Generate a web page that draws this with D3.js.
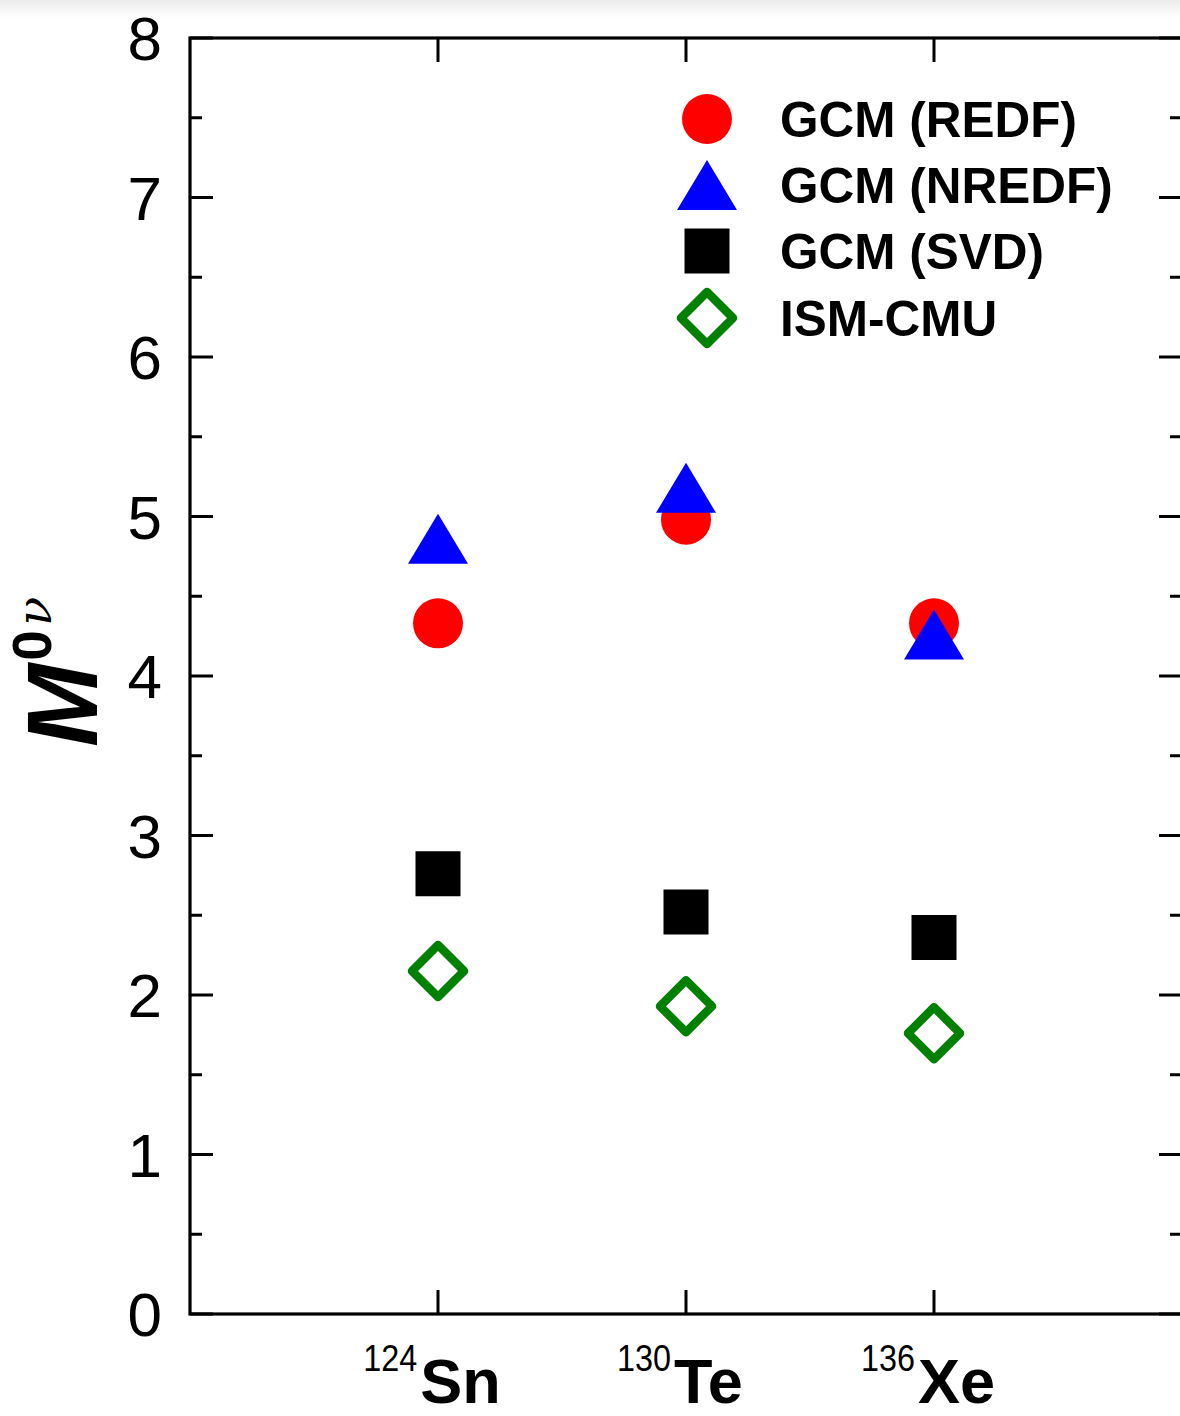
<!DOCTYPE html>
<html>
<head>
<meta charset="utf-8">
<script src="https://cdn.jsdelivr.net/npm/d3@7"></script>
<style>
  body { margin: 0; background: #fff; }
  svg { display: block; font-family: "Liberation Sans", Arial, sans-serif; }
</style>
</head>
<body>
<div id="chart"></div>
<script>
// nuclei on the x axis
const nuclei = [
    { mass: "124", sym: "Sn" },
    { mass: "130", sym: "Te" },
    { mass: "136", sym: "Xe" }
];
const seriesNames = ["GCM (REDF)", "GCM (NREDF)", "GCM (SVD)", "ISM-CMU"];
// values of M^0nu
const redf = [4.33, 4.98, 4.33];
const nredf = [4.86, 5.18, 4.26];
const svd = [2.76, 2.52, 2.36];
const ismCmu = [2.15, 1.93, 1.76];
const yTicks = [0, 1, 2, 3, 4, 5, 6, 7, 8];

const width = 1180, height = 1416;
const margin = { left: 190, top: 38, right: -2, bottom: 102 };

const x = d3.scaleLinear().domain([0, 4]).range([margin.left, width - margin.right]);
const y = d3.scaleLinear().domain([0, 8]).range([height - margin.bottom, margin.top]);

const svg = d3.select("#chart").append("svg")
    .attr("width", width)
    .attr("height", height);

// faint shade at the very top, like the scan
const grad = svg.append("defs").append("linearGradient")
    .attr("id", "topshade").attr("x1", 0).attr("y1", 0).attr("x2", 0).attr("y2", 1);
grad.append("stop").attr("offset", "0%").attr("stop-color", "#ebebeb");
grad.append("stop").attr("offset", "100%").attr("stop-color", "#ffffff");
svg.append("rect").attr("x", 0).attr("y", 0).attr("width", width).attr("height", 18)
    .attr("fill", "url(#topshade)");

// markers
function circlePath(r) {
    return d3.symbol(d3.symbolCircle, Math.PI * r * r)();
}
const triPath = `M0,-25L30,25L-30,25Z`;
const sqPath = `M-22.5,-22.5H22.5V22.5H-22.5Z`;
const diaPath = `M0,-26L26,0L0,26L-26,0Z`;

const series = [
    { name: seriesNames[0], values: redf, d: circlePath(25), fill: "#ff0000", stroke: "none" },
    { name: seriesNames[1], values: nredf, d: triPath, fill: "#0000ff", stroke: "none" },
    { name: seriesNames[2], values: svd, d: sqPath, fill: "#000000", stroke: "none" },
    { name: seriesNames[3], values: ismCmu, d: diaPath, fill: "#ffffff", stroke: "#008000" }
];

const plot = svg.append("g");
series.forEach(s => {
    plot.append("g")
        .selectAll("path")
        .data(s.values)
        .join("path")
        .attr("d", s.d)
        .attr("transform", (v, i) => `translate(${x(i + 1)},${y(v)})`)
        .attr("fill", s.fill)
        .attr("stroke", s.stroke)
        .attr("stroke-width", s.stroke === "none" ? 0 : 8.5)
        .attr("stroke-linejoin", "round");
});

// axes - ticks point inward on all four sides
const axisG = svg.append("g").attr("stroke", "#000").attr("fill", "none");
const minorTicks = d3.range(0.5, 8, 1);

function drawY(g, xPos, dir) {
    g.selectAll(".maj").data(yTicks).join("line").attr("class", "maj")
        .attr("x1", xPos).attr("x2", xPos + dir * 23)
        .attr("y1", d => y(d)).attr("y2", d => y(d))
        .attr("stroke-width", 3);
    g.selectAll(".min").data(minorTicks).join("line").attr("class", "min")
        .attr("x1", xPos).attr("x2", xPos + dir * 12)
        .attr("y1", d => y(d)).attr("y2", d => y(d))
        .attr("stroke-width", 3);
}
drawY(axisG.append("g"), x.range()[0], 1);
drawY(axisG.append("g"), x.range()[1], -1);

const xTickPos = nuclei.map((d, i) => i + 1);
axisG.append("g").selectAll("line").data(xTickPos).join("line")
    .attr("x1", d => x(d)).attr("x2", d => x(d))
    .attr("y1", y(0)).attr("y2", y(0) - 24)
    .attr("stroke-width", 3);
axisG.append("g").selectAll("line").data(xTickPos).join("line")
    .attr("x1", d => x(d)).attr("x2", d => x(d))
    .attr("y1", y(8)).attr("y2", y(8) + 24)
    .attr("stroke-width", 3);

// frame
axisG.append("rect")
    .attr("x", x.range()[0]).attr("y", y(8))
    .attr("width", x.range()[1] - x.range()[0])
    .attr("height", y(0) - y(8))
    .attr("stroke-width", 3.2);

// y tick labels
svg.append("g").selectAll("text").data(yTicks).join("text")
    .attr("x", 162)
    .attr("y", d => y(d))
    .attr("dy", "0.36em")
    .attr("text-anchor", "end")
    .attr("font-size", 62)
    .attr("fill", "#000")
    .text(d => d);

// x tick labels: superscript mass number + bold element symbol
const xl = svg.append("g").selectAll("text").data(nuclei).join("text")
    .attr("x", (d, i) => x(i + 1) - 6)
    .attr("y", 1403)
    .attr("text-anchor", "middle")
    .attr("fill", "#000");
xl.append("tspan")
    .attr("font-size", 36)
    .attr("dy", -32)
    .attr("textLength", 54)
    .attr("lengthAdjust", "spacingAndGlyphs")
    .text(d => d.mass);
xl.append("tspan")
    .attr("font-size", 63)
    .attr("font-weight", "bold")
    .attr("dy", 32)
    .attr("dx", 3)
    .text(d => d.sym);

// y axis title M^{0nu}
const yt = svg.append("text")
    .attr("transform", "translate(97,747) rotate(-90)")
    .attr("fill", "#000");
yt.append("tspan")
    .attr("font-size", 100)
    .attr("font-weight", "bold")
    .attr("font-style", "italic")
    .text("M");
yt.append("tspan")
    .attr("font-size", 55)
    .attr("font-weight", "bold")
    .attr("dy", -46)
    .attr("dx", 3)
    .text("0");
yt.append("tspan")
    .attr("font-size", 48)
    .attr("font-style", "italic")
    .attr("font-family", "'DejaVu Serif', serif")
    .attr("dx", 4)
    .text("ν");

// legend
const legendY = [119, 185, 251, 318];
const legend = svg.append("g").selectAll("g").data(series).join("g")
    .attr("transform", (d, i) => `translate(707,${legendY[i]})`);
legend.append("path")
    .attr("d", d => d.d)
    .attr("fill", d => d.fill)
    .attr("stroke", d => d.stroke)
    .attr("stroke-width", d => d.stroke === "none" ? 0 : 8.5)
    .attr("stroke-linejoin", "round");
legend.append("text")
    .attr("x", 73)
    .attr("dy", "0.36em")
    .attr("font-size", 49.5)
    .attr("font-weight", "bold")
    .attr("fill", "#000")
    .text(d => d.name);
</script>
</body>
</html>
